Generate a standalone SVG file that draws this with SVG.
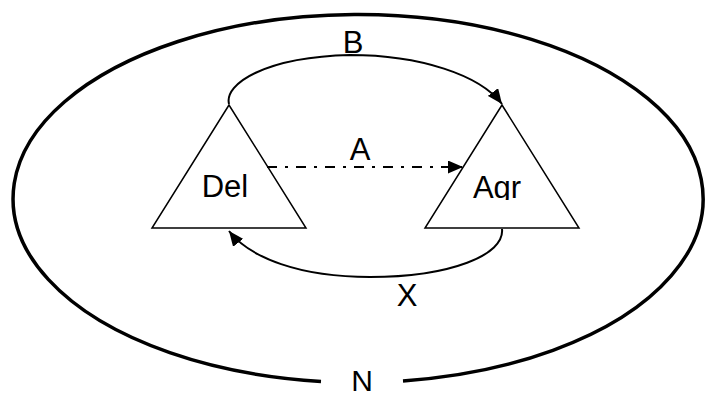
<svg xmlns="http://www.w3.org/2000/svg" width="706" height="395" viewBox="0 0 706 395">
<style>
text{font-family:"Liberation Sans",Arial,sans-serif;font-size:31px;fill:#000;text-anchor:middle}
.tri{fill:#fff;stroke:#000;stroke-width:1.5}
.arc{fill:none;stroke:#000;stroke-width:2}
.dd{fill:none;stroke:#000;stroke-width:2;stroke-dasharray:10 8 3 8}
.outer{fill:none;stroke:#000;stroke-width:3.5}
</style>
<defs>
<marker id="ah" markerUnits="userSpaceOnUse" markerWidth="16" markerHeight="13" refX="15" refY="6.5" orient="auto">
<path d="M0,0 L15,6.5 L0,13 z" fill="#000"/>
</marker>
<clipPath id="agrclip"><rect x="440" y="150" width="120" height="50"/></clipPath>
</defs>
<g id="N">
<path class="outer" d="M 321 381.4 A 345 184 0 1 1 403 380.9"/>
<text x="362" y="391" style="font-size:30px">N</text>
</g>
<g id="Del">
<polygon class="tri" points="229,105 152,228 306,228"/>
<text x="225" y="197">Del</text>
</g>
<g id="Agr">
<polygon class="tri" points="502,105 425,228 579,228"/>
<text x="497" y="198" clip-path="url(#agrclip)">Agr</text>
</g>
<g id="connectors">
<path class="arc" d="M 229 104 C 224 84 265 57 350 55 C 420 55 480 75 502 104" marker-end="url(#ah)"/>
<path class="dd" d="M 267 167 L 463 167" marker-end="url(#ah)"/>
<path class="arc" d="M 502 229 C 505 255 450 277 370 277 C 300 277 250 258 229 231" marker-end="url(#ah)"/>
<text x="353" y="53">B</text>
<text x="360" y="160">A</text>
<text x="407" y="306">X</text>
</g>
</svg>
